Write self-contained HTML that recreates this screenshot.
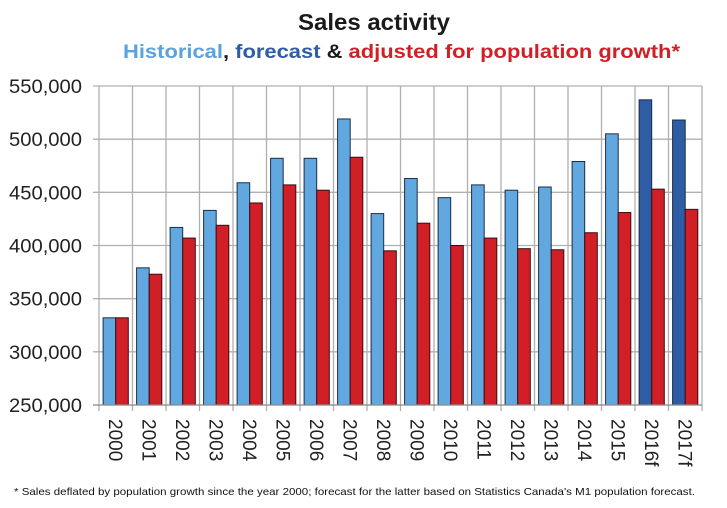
<!DOCTYPE html>
<html><head><meta charset="utf-8"><style>
html,body{margin:0;padding:0;background:#fff;}
svg{display:block;font-family:"Liberation Sans",sans-serif;}
</style></head><body>
<svg width="727" height="508" viewBox="0 0 727 508" xmlns="http://www.w3.org/2000/svg">
<rect width="727" height="508" fill="#fff"/>
<text x="374" y="30" text-anchor="middle" font-size="23" font-weight="bold" fill="#1a1a1a" textLength="152" lengthAdjust="spacingAndGlyphs">Sales activity</text>
<text x="123" y="58" font-size="19" font-weight="bold" textLength="557" lengthAdjust="spacingAndGlyphs"><tspan fill="#5ba3dc">Historical</tspan><tspan fill="#1a1a1a">, </tspan><tspan fill="#2e5ca5">forecast</tspan><tspan fill="#1a1a1a"> &amp; </tspan><tspan fill="#d01f26">adjusted for population growth*</tspan></text>
<g id="grid" stroke="#b0b0b0" stroke-width="1.3"></g>
<g id="bars"></g>
<g id="labels" font-size="19" fill="#222"></g>
<line x1="93" y1="405" x2="702" y2="405" stroke="#888" stroke-width="1.3"/>
<text x="14" y="495" font-size="10.5" fill="#111" textLength="681" lengthAdjust="spacingAndGlyphs">* Sales deflated by population growth since the year 2000;  forecast for the latter based on Statistics Canada's M1 population forecast.</text>
<script>
var ns="http://www.w3.org/2000/svg";
function el(t,a,p,txt){var e=document.createElementNS(ns,t);for(var k in a)e.setAttribute(k,a[k]);if(txt)e.textContent=txt;document.getElementById(p).appendChild(e);}
var L=99,R=702,T=86,B=405,cw=(R-L)/18;
function y(v){return B-(v-250000)/300000*(B-T);}
for(var i=0;i<=6;i++){var yy=y(250000+i*50000);
 if(i>0)el("line",{x1:93,y1:yy,x2:R,y2:yy},"grid");
 el("text",{x:82,y:yy+7,"text-anchor":"end",textLength:73,lengthAdjust:"spacingAndGlyphs"},"labels",(250+i*50)+",000");}
for(var i=0;i<=18;i++){var xx=L+i*cw;el("line",{x1:xx,y1:T,x2:xx,y2:B+6},"grid");}
var d=[[332,332],[379,373],[417,407],[433,419],[459,440],[482,457],[482,452],[519,483],[430,395],[463,421],[445,400],[457,407],[452,397],[455,396],[479,412],[505,431],[537,453],[518,434]];
var names=["2000","2001","2002","2003","2004","2005","2006","2007","2008","2009","2010","2011","2012","2013","2014","2015","2016f","2017f"];
var bw=12.6;
for(var i=0;i<18;i++){var x0=L+i*cw+4.1;
 var c1=i>=16?"#2e5ca5":"#62a8e0";
 el("rect",{x:x0,y:y(d[i][0]*1000),width:bw,height:B-y(d[i][0]*1000),fill:c1,stroke:"#1c2c44","stroke-width":1},"bars");
 el("rect",{x:x0+bw,y:y(d[i][1]*1000),width:bw,height:B-y(d[i][1]*1000),fill:"#d01f26",stroke:"#3a0e10","stroke-width":1},"bars");
 var cx=L+i*cw+cw/2-7;
 el("text",{x:0,y:0,transform:"translate("+cx+",419) rotate(90)"},"labels",names[i]);}
</script>
</svg>
</body></html>
